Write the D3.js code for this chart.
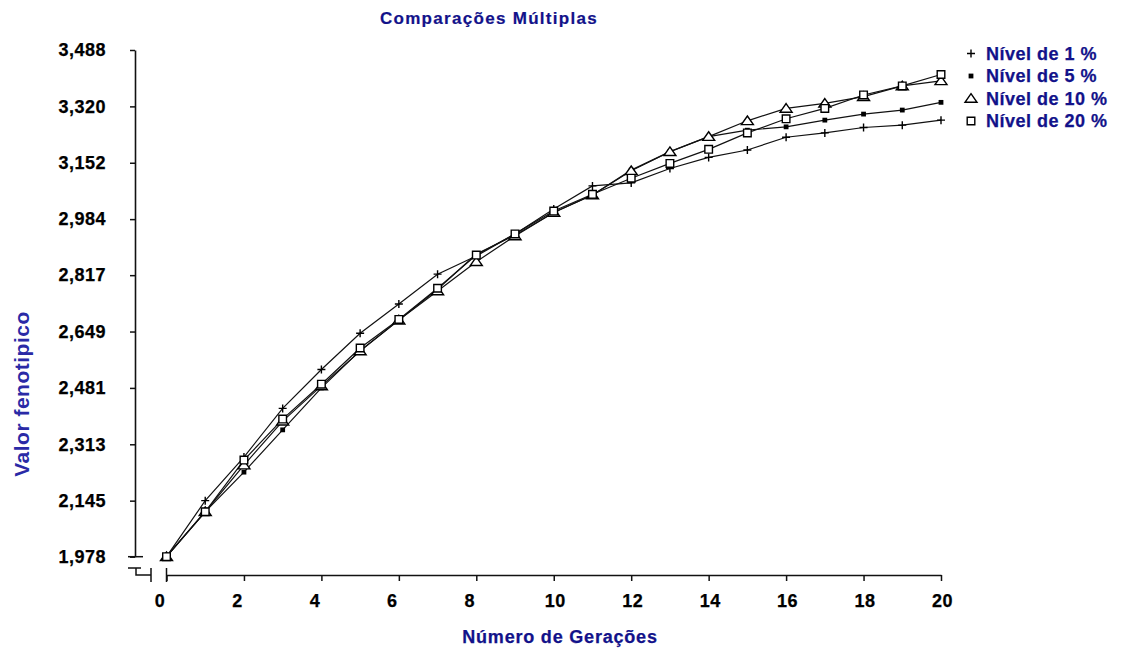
<!DOCTYPE html>
<html>
<head>
<meta charset="utf-8">
<script src="https://cdn.jsdelivr.net/npm/d3@7"></script>
<style>
  body { margin: 0; background: #fff; }
  svg { display: block; font-family: "Liberation Sans", Arial, sans-serif; font-weight: bold; }
</style>
</head>
<body>
<svg id="chart" width="1122" height="651"></svg>
<script>
// Gerações simuladas (eixo X)
const generations = [0, 1, 2, 3, 4, 5, 6, 7, 8, 9, 10, 11, 12, 13, 14, 15, 16, 17, 18, 19, 20];

// Valor fenotípico médio por nível de seleção
const nivel1  = [1.978, 2.145, 2.275, 2.420, 2.536, 2.644, 2.731, 2.820, 2.874, 2.940, 3.014, 3.083, 3.092, 3.135, 3.168, 3.190, 3.228, 3.241, 3.257, 3.264, 3.279];
const nivel5  = [1.978, 2.112, 2.230, 2.356, 2.481, 2.592, 2.683, 2.775, 2.880, 2.936, 3.004, 3.056, 3.130, 3.185, 3.230, 3.249, 3.259, 3.279, 3.297, 3.309, 3.332];
const nivel10 = [1.978, 2.112, 2.251, 2.382, 2.487, 2.591, 2.683, 2.770, 2.857, 2.934, 3.004, 3.056, 3.128, 3.185, 3.230, 3.277, 3.314, 3.329, 3.349, 3.381, 3.396];
const nivel20 = [1.978, 2.112, 2.266, 2.388, 2.492, 2.600, 2.685, 2.778, 2.877, 2.940, 3.008, 3.058, 3.106, 3.150, 3.192, 3.241, 3.283, 3.314, 3.354, 3.381, 3.415];

const seriesNames = ["Nível de 1 %", "Nível de 5 %", "Nível de 10 %", "Nível de 20 %"];
const seriesSymbols = ["plus", "dot", "triangle", "square"];

const yTicks = [1.978, 2.145, 2.313, 2.481, 2.649, 2.817, 2.984, 3.152, 3.320, 3.488];
const xTicks = [0, 2, 4, 6, 8, 10, 12, 14, 16, 18, 20];

const titleText = "Comparações Múltiplas";
const xTitle = "Número de Gerações";
const yTitle = "Valor fenotipico";

const navy = "#12128a";
const svg = d3.select("#chart");

const x = d3.scaleLinear().domain([0, 20]).range([166.5, 941]);
const y = d3.scaleLinear().domain([1.978, 3.488]).range([556.7, 50]);
const yAxisX = 135;
const xAxisY = 575;

// marker shapes
function symbolPath(kind) {
  switch (kind) {
    case "plus": return "M-4,0H4M0,-4V4";
    case "dot": return "M-2.4,-2.4H2.4V2.4H-2.4Z";
    case "triangle": return "M0,-4.8L6,3.8H-6Z";
    case "square": return "M-3.8,-3.8H3.8V3.8H-3.8Z";
  }
}
function symbolStyle(sel, kind) {
  if (kind === "dot") sel.attr("fill", "#000").attr("stroke", "none");
  else if (kind === "plus") sel.attr("fill", "none").attr("stroke", "#000").attr("stroke-width", 1.4);
  else sel.attr("fill", "#fff").attr("stroke", "#000").attr("stroke-width", 1.4);
}

// Y axis
const gy = svg.append("g")
  .attr("transform", `translate(${yAxisX},0)`)
  .call(d3.axisLeft(y).tickValues(yTicks).tickSize(5).tickSizeOuter(0).tickPadding(24)
    .tickFormat(d => d3.format(".3f")(d).replace(".", ",")));

// X axis
const gx = svg.append("g")
  .attr("transform", `translate(0,${xAxisY})`)
  .call(d3.axisBottom(x).tickValues(xTicks).tickSize(6).tickSizeOuter(0).tickPadding(13));

[gx, gy].forEach(g => {
  g.selectAll("path.domain").attr("stroke", "#111").attr("stroke-width", 1.6);
  g.selectAll(".tick line").attr("stroke", "#111").attr("stroke-width", 1.5);
  g.selectAll("text").attr("fill", "#000").attr("font-size", 18)
    .attr("font-family", "Liberation Sans, Arial, sans-serif").attr("font-weight", "bold")
    .attr("stroke", "#000").attr("stroke-width", 0.25)
    .style("letter-spacing", "0.5px");
});
gx.selectAll(".tick text").attr("dx", d => (d < 10 ? -7 : 1));

// axis break marks between the two axes
const y0 = y(1.978);
const brk = svg.append("g").attr("stroke", "#111").attr("stroke-width", 1.5).attr("fill", "none");
brk.append("path").attr("d", `M${yAxisX - 7},${y0}H${yAxisX + 8}`);
brk.append("path").attr("d",
  `M${yAxisX - 7},${xAxisY - 7}H${yAxisX + 6}M${yAxisX + 1},${xAxisY - 7}V${xAxisY}H${yAxisX + 16}` +
  `M${yAxisX + 16},${xAxisY - 7}V${xAxisY + 7}`);
brk.append("path").attr("d", `M${x(0)},${xAxisY - 7}V${xAxisY + 7}`);

// series lines and markers
const seriesValues = [nivel1, nivel5, nivel10, nivel20];
const line = d3.line().x((d, i) => x(generations[i])).y(d => y(d));

seriesValues.forEach((vals, s) => {
  svg.append("path")
    .attr("d", line(vals))
    .attr("fill", "none")
    .attr("stroke", "#111")
    .attr("stroke-width", 1.2);
});
seriesValues.forEach((vals, s) => {
  const kind = seriesSymbols[s];
  svg.append("g").selectAll("path")
    .data(vals)
    .join("path")
    .attr("transform", (d, i) => `translate(${x(generations[i])},${y(d)})`)
    .attr("d", symbolPath(kind))
    .call(symbolStyle, kind);
});

// legend
const legendY = d3.scalePoint().domain(seriesNames).range([53.5, 121]);
const legend = svg.append("g");
seriesNames.forEach((name, s) => {
  const row = legend.append("g").attr("transform", `translate(971,${legendY(name)})`);
  row.append("path").attr("d", symbolPath(seriesSymbols[s])).call(symbolStyle, seriesSymbols[s]);
  row.append("text")
    .attr("x", 15).attr("dy", "0.36em")
    .attr("fill", navy).attr("font-size", 18)
    .attr("stroke", navy).attr("stroke-width", 0.25)
    .style("letter-spacing", "0.5px")
    .text(name);
});

// titles
svg.append("text")
  .attr("x", 489).attr("y", 24)
  .attr("text-anchor", "middle")
  .attr("fill", navy).attr("font-size", 17)
  .attr("stroke", navy).attr("stroke-width", 0.2)
  .style("letter-spacing", "1.3px")
  .text(titleText);

svg.append("text")
  .attr("x", 560).attr("y", 643)
  .attr("text-anchor", "middle")
  .attr("fill", navy).attr("font-size", 18)
  .attr("stroke", navy).attr("stroke-width", 0.25)
  .style("letter-spacing", "0.8px")
  .text(xTitle);

svg.append("text")
  .attr("transform", "translate(29,394) rotate(-90)")
  .attr("text-anchor", "middle")
  .attr("fill", "#2a2aa6").attr("font-size", 21)
  .style("letter-spacing", "0.5px")
  .text(yTitle);
</script>
</body>
</html>
